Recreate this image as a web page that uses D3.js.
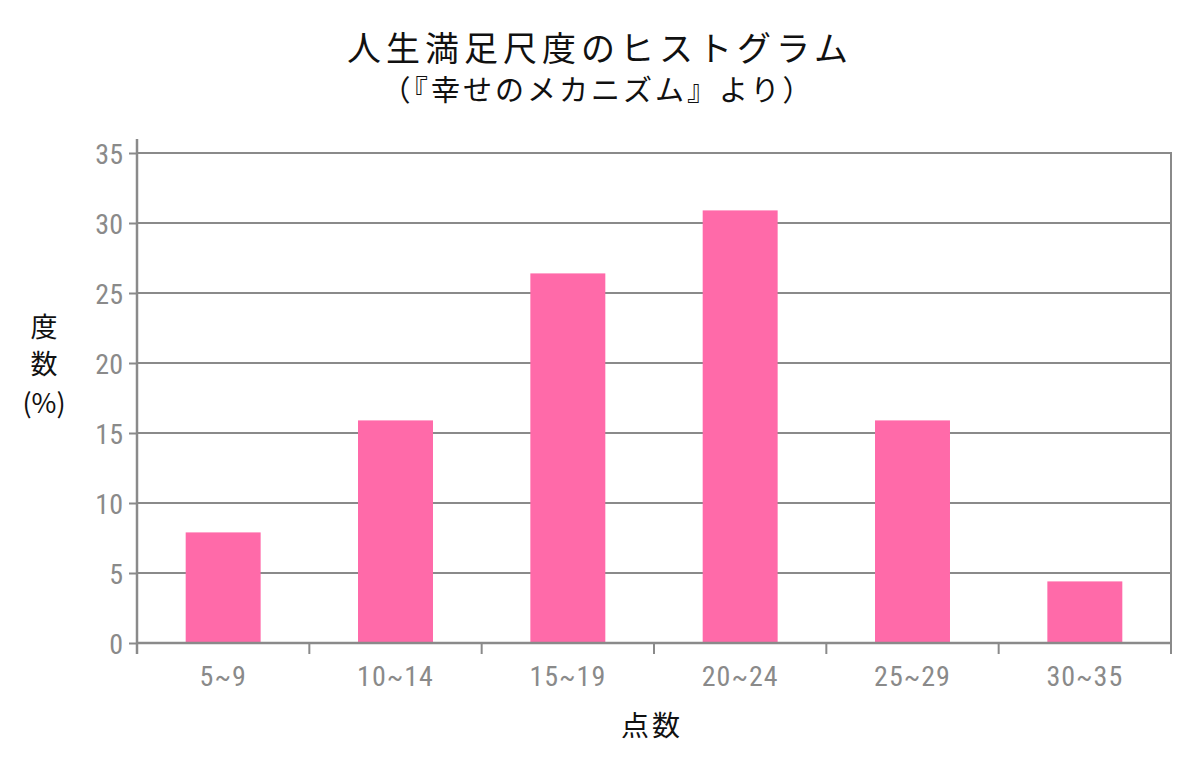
<!DOCTYPE html>
<html><head><meta charset="utf-8">
<script src="https://cdn.jsdelivr.net/npm/d3@7"></script>
<style>body{margin:0;background:#fff}</style>
</head><body>
<svg id="c" width="1200" height="764"></svg>
<script>
const categories = ["5~9","10~14","15~19","20~24","25~29","30~35"];
const values = [7.9, 15.9, 26.4, 30.9, 15.9, 4.4];
const yTicks = [0,5,10,15,20,25,30,35];

const svg = d3.select("#c");
const L=137, R=1171, T=153, B=643;
const x = d3.scaleBand().domain(categories).range([L,R]).paddingInner(0.565).paddingOuter(0.2825);
const xb = d3.scaleBand().domain(categories).range([L,R]).padding(0);
const y = d3.scaleLinear().domain([0,35]).range([B,T]);
const grey = "#8a8a8a";
const tickFont = "'Liberation Sans Narrow','Roboto Condensed','Roboto',sans-serif";

// gridlines
svg.append("g").selectAll("line").data(yTicks.filter(d=>d>0)).join("line")
  .attr("x1",L).attr("x2",R).attr("y1",d=>y(d)).attr("y2",d=>y(d))
  .attr("stroke",grey).attr("stroke-width",2);
// right border
svg.append("line").attr("x1",R).attr("x2",R).attr("y1",T-1).attr("y2",B+11)
  .attr("stroke",grey).attr("stroke-width",2);

// bars
svg.append("g").selectAll("rect").data(values).join("rect")
  .attr("x",(d,i)=>x(categories[i])).attr("width",x.bandwidth())
  .attr("y",d=>y(d)).attr("height",d=>B-y(d)).attr("fill","#ff6aa9");

// y axis
const yAxis = svg.append("g").attr("transform",`translate(${L},0)`)
  .call(d3.axisLeft(y).tickValues(yTicks).tickSize(8).tickPadding(6));
yAxis.select(".domain").remove();
yAxis.append("line").attr("x1",0).attr("x2",0).attr("y1",T-14).attr("y2",B+11).attr("stroke",grey).attr("stroke-width",2.5);
yAxis.selectAll(".tick line").attr("stroke",grey).attr("stroke-width",2);
yAxis.selectAll("text").attr("fill",grey).style("font-family",tickFont).style("font-size","28px").attr("dy","0.36em");

// x axis baseline and ticks at band boundaries
svg.append("line").attr("x1",L).attr("x2",R).attr("y1",B).attr("y2",B).attr("stroke",grey).attr("stroke-width",2.5);
const bounds = categories.map(c=>xb(c)).concat([R]);
svg.append("g").selectAll("line").data(bounds).join("line")
  .attr("x1",d=>d).attr("x2",d=>d).attr("y1",B).attr("y2",B+11)
  .attr("stroke",grey).attr("stroke-width",2);
svg.append("g").selectAll("text").data(categories).join("text")
  .attr("x",d=>xb(d)+xb.bandwidth()/2).attr("y",B+43)
  .attr("text-anchor","middle").attr("fill",grey)
  .style("font-family",tickFont).style("font-size","28px").style("letter-spacing","1px").text(d=>d);

const cjk = "'Noto Sans CJK JP','Noto Sans',sans-serif";
// titles
svg.append("text").attr("x",600).attr("y",61).attr("text-anchor","middle")
  .style("font-family",cjk).style("font-size","34px").style("letter-spacing","5px")
  .attr("fill","#111").text("人生満足尺度のヒストグラム");
svg.append("text").attr("x",598).attr("y",101).attr("text-anchor","middle")
  .style("font-family",cjk).style("font-size","29px").style("letter-spacing","3px")
  .attr("fill","#111").text("（『幸せのメカニズム』より）");

// y label
[["度",337],["数",374],["(%)",413]].forEach(([t,yy])=>{
  svg.append("text").attr("x",44).attr("y",yy).attr("text-anchor","middle")
    .style("font-family",cjk).style("font-size","27px").attr("fill","#111").text(t);
});
// x label
svg.append("text").attr("x",652).attr("y",736).attr("text-anchor","middle")
  .style("font-family",cjk).style("font-size","28px").style("letter-spacing","3px")
  .attr("fill","#111").text("点数");
</script>
</body></html>
